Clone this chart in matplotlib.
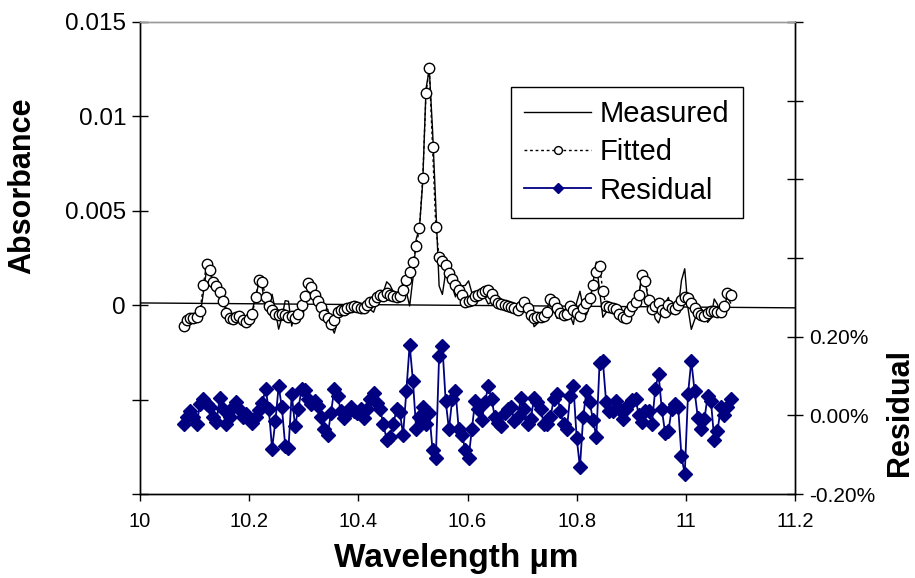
import numpy as np
import matplotlib
matplotlib.use("Agg")
import matplotlib.pyplot as plt
from matplotlib.ticker import FixedLocator, FuncFormatter

plt.rcParams['font.family'] = ['Liberation Sans', 'DejaVu Sans']

# wavelength grid of the spectrum (um)
wavelength = np.round(10.08 + 0.006 * np.arange(168), 4)

# fitted absorbance, units of 1e-4
fitted_e4 = [
    -11.1, -7.6, -6.9, -6.6, -6.4, -3.2,
    10.6, 21.7, 18.9, 12.3, 10.1, 7.0,
    2.1, -3.9, -6.7, -7.4, -6.2, -5.8,
    -8.0, -8.9, -7.4, -4.4, 4.4, 13.3,
    12.3, 4.4, -0.5, -2.7, -4.4, -5.3,
    -4.4, -5.3, -6.2, -5.7, -7.0, -4.8,
    0.0, 4.8, 11.5, 9.7, 5.3, 2.3,
    -0.9, -5.3, -7.0, -10.1, -8.0, -3.6,
    -2.3, -2.7, -1.7, -0.9, -0.5, -0.9,
    -1.7, -1.7, 0.0, 1.7, 2.1, 4.4,
    5.3, 4.8, 6.2, 5.3, 4.8, 4.4,
    4.8, 8.0, 13.3, 17.6, 22.9, 31.3,
    40.8, 67.3, 112.4, 125.6, 83.7, 41.3,
    25.4, 23.3, 21.2, 17.0, 13.8, 10.6,
    8.0, 5.3, 1.6, 2.1, 2.9, 4.8,
    5.6, 6.4, 7.4, 8.0, 5.8, 2.7,
    1.1, 0.5, 0.0, -0.3, -0.9, -1.6,
    -2.7, -0.5, 1.6, -1.6, -5.3, -6.9,
    -6.4, -6.2, -5.8, -3.7, 3.2, 1.6,
    -1.6, -4.2, -5.3, -4.8, -0.5, -2.7,
    -4.2, -5.8, -1.6, 1.1, 3.7, 10.6,
    17.5, 20.7, 7.4, -0.5, -1.1, -1.3,
    -2.1, -4.8, -6.4, -6.9, -3.2, -0.5,
    1.6, 5.3, 15.9, 12.7, 2.7, -2.1,
    -0.5, 1.1, -2.7, -3.4, 0.0, -1.6,
    -2.1, 0.0, 2.7, 4.4, 3.7, 1.1,
    -1.6, -4.2, -5.3, -5.8, -4.2, -3.2,
    -2.9, -3.6, -3.6, -0.5, 6.4, 5.3,
]

# residual (fitted - measured), units of 1e-4
residual_e4 = [
    -2.1, -0.3, 1.1, -0.5, -2.1, 2.8,
    4.1, 2.8, 2.2, -0.5, -1.7, 4.4,
    1.5, -2.3, -0.5, 2.1, 3.3, 1.5,
    -0.5, 0.3, -0.8, -1.9, -0.3, 1.3,
    3.1, 6.7, 1.5, -8.5, -1.5, 7.4,
    2.0, -7.7, -8.3, 5.4, -2.7, 1.5,
    6.7, 6.4, 4.1, 2.8, 3.7, 2.4,
    -0.5, -3.6, -4.9, 0.7, 6.8, 4.9,
    1.1, -0.6, 0.5, 2.0, 1.1, 0.7,
    1.7, -0.6, 1.5, 4.1, 5.8, 3.1,
    1.5, -2.3, -6.2, -5.4, -2.3, 1.5,
    0.8, -4.9, 6.2, 18.0, 8.8, -3.6,
    -0.3, 2.0, -2.3, 0.7, -8.9, -10.8,
    15.2, 17.6, 3.7, -3.6, 4.1, 6.2,
    -3.6, -4.9, -8.9, -10.8, -3.6, 3.7,
    1.7, -1.3, 3.3, 7.4, 4.1, -0.3,
    -1.9, -2.7, 0.7, 1.5, 2.0, -1.5,
    -0.3, 4.5, 1.7, -2.3, -1.0, 4.5,
    3.3, 1.5, -2.3, -2.3, -0.5, 4.1,
    5.4, 1.1, -2.3, -3.6, 4.9, 7.5,
    -5.7, -13.2, -0.3, 6.2, 3.3, -1.3,
    -5.4, 13.3, 13.8, 3.3, 1.0, 1.0,
    3.7, 1.5, -1.0, 1.5, 2.8, 3.8,
    4.1, 0.0, -1.8, 1.0, 1.0, -2.1,
    6.7, 10.5, 1.5, -4.4, -4.1, 1.5,
    2.8, 2.0, -10.4, -14.9, 5.4, 13.9,
    6.2, -0.6, -3.6, -1.0, 4.9, 3.7,
    -6.2, -4.0, 2.0, 0.0, 2.0, 4.1,
]

fitted = np.array(fitted_e4) * 1e-4
residual = np.array(residual_e4) * 1e-4
measured = fitted - residual

# straight reference line across the plot
baseline_x = [10.0, 11.2]
baseline_y = [0.00012, -0.00014]

x_ticks = [10, 10.2, 10.4, 10.6, 10.8, 11, 11.2]
abs_ticks = [-0.01, -0.005, 0, 0.005, 0.01, 0.015]
abs_labels = ['', '', '0', '0.005', '0.01', '0.015']
res_ticks = [-0.002, 0, 0.002, 0.004, 0.006, 0.008, 0.010]
res_labels = ['-0.20%', '0.00%', '0.20%', '', '', '', '']

navy = '#000080'

fig = plt.figure(figsize=(9.15, 5.78), dpi=100)
ax = fig.add_axes([140/915, 1 - 494/578, 655/915, 472/578])
ax2 = ax.twinx()

ax.plot(baseline_x, baseline_y, color='black', lw=1)
l1, = ax.plot(wavelength, measured, color='black', lw=1, label='Measured')
l2, = ax.plot(wavelength, fitted, color='black', lw=1, ls=(0, (2, 2)),
              marker='o', ms=7.5, mfc='white', mec='black', mew=1,
              label='Fitted')
l3, = ax2.plot(wavelength, residual, color=navy, lw=1.3, marker='D',
               ms=7, mfc=navy, mec=navy, label='Residual')

ax.set_xlim(10, 11.2)
ax.set_ylim(-0.01, 0.015)
ax2.set_ylim(-0.002, 0.010)

ax.xaxis.set_major_locator(FixedLocator(x_ticks))
ax.xaxis.set_major_formatter(FuncFormatter(lambda v, p: '%g' % v))
ax.set_yticks(abs_ticks)
ax.set_yticklabels(abs_labels)
ax2.set_yticks(res_ticks)
ax2.set_yticklabels(res_labels)

ax.tick_params(axis='y', direction='inout', length=12, width=1,
               labelsize=17.5, pad=4)
ax.tick_params(axis='x', direction='out', length=5, width=1,
               labelsize=14.5, pad=8)
ax2.tick_params(axis='y', direction='inout', length=12, width=1,
                labelsize=15, pad=4)

for a in (ax, ax2):
    for s in ('left', 'right', 'bottom'):
        a.spines[s].set_color('black')
        a.spines[s].set_linewidth(1)
    a.spines['top'].set_color('#999999')
    a.spines['top'].set_linewidth(1)

fig.text(22/915, 1 - 186/578, 'Absorbance', rotation=90, fontsize=22,
         fontweight='bold', ha='center', va='center')
fig.text(900/915, 1 - 413/578, 'Residual', rotation=90, fontsize=22,
         fontweight='bold', ha='center', va='center')
fig.text(456/915, 1 - 558/578, 'Wavelength µm', fontsize=24,
         fontweight='bold', ha='center', va='center')

leg = ax2.legend([l1, l2, l3], ['Measured', 'Fitted', 'Residual'],
                 loc='upper left', bbox_to_anchor=(511/915, 1 - 87/578),
                 bbox_transform=fig.transFigure, fontsize=21,
                 frameon=True, fancybox=False, framealpha=1,
                 edgecolor='black', handlelength=2.3, handletextpad=0.3,
                 borderpad=0.45, labelspacing=0.35, borderaxespad=0,
                 markerscale=0.75)
leg.get_frame().set_linewidth(1)

fig.savefig('out.png', dpi=100)
